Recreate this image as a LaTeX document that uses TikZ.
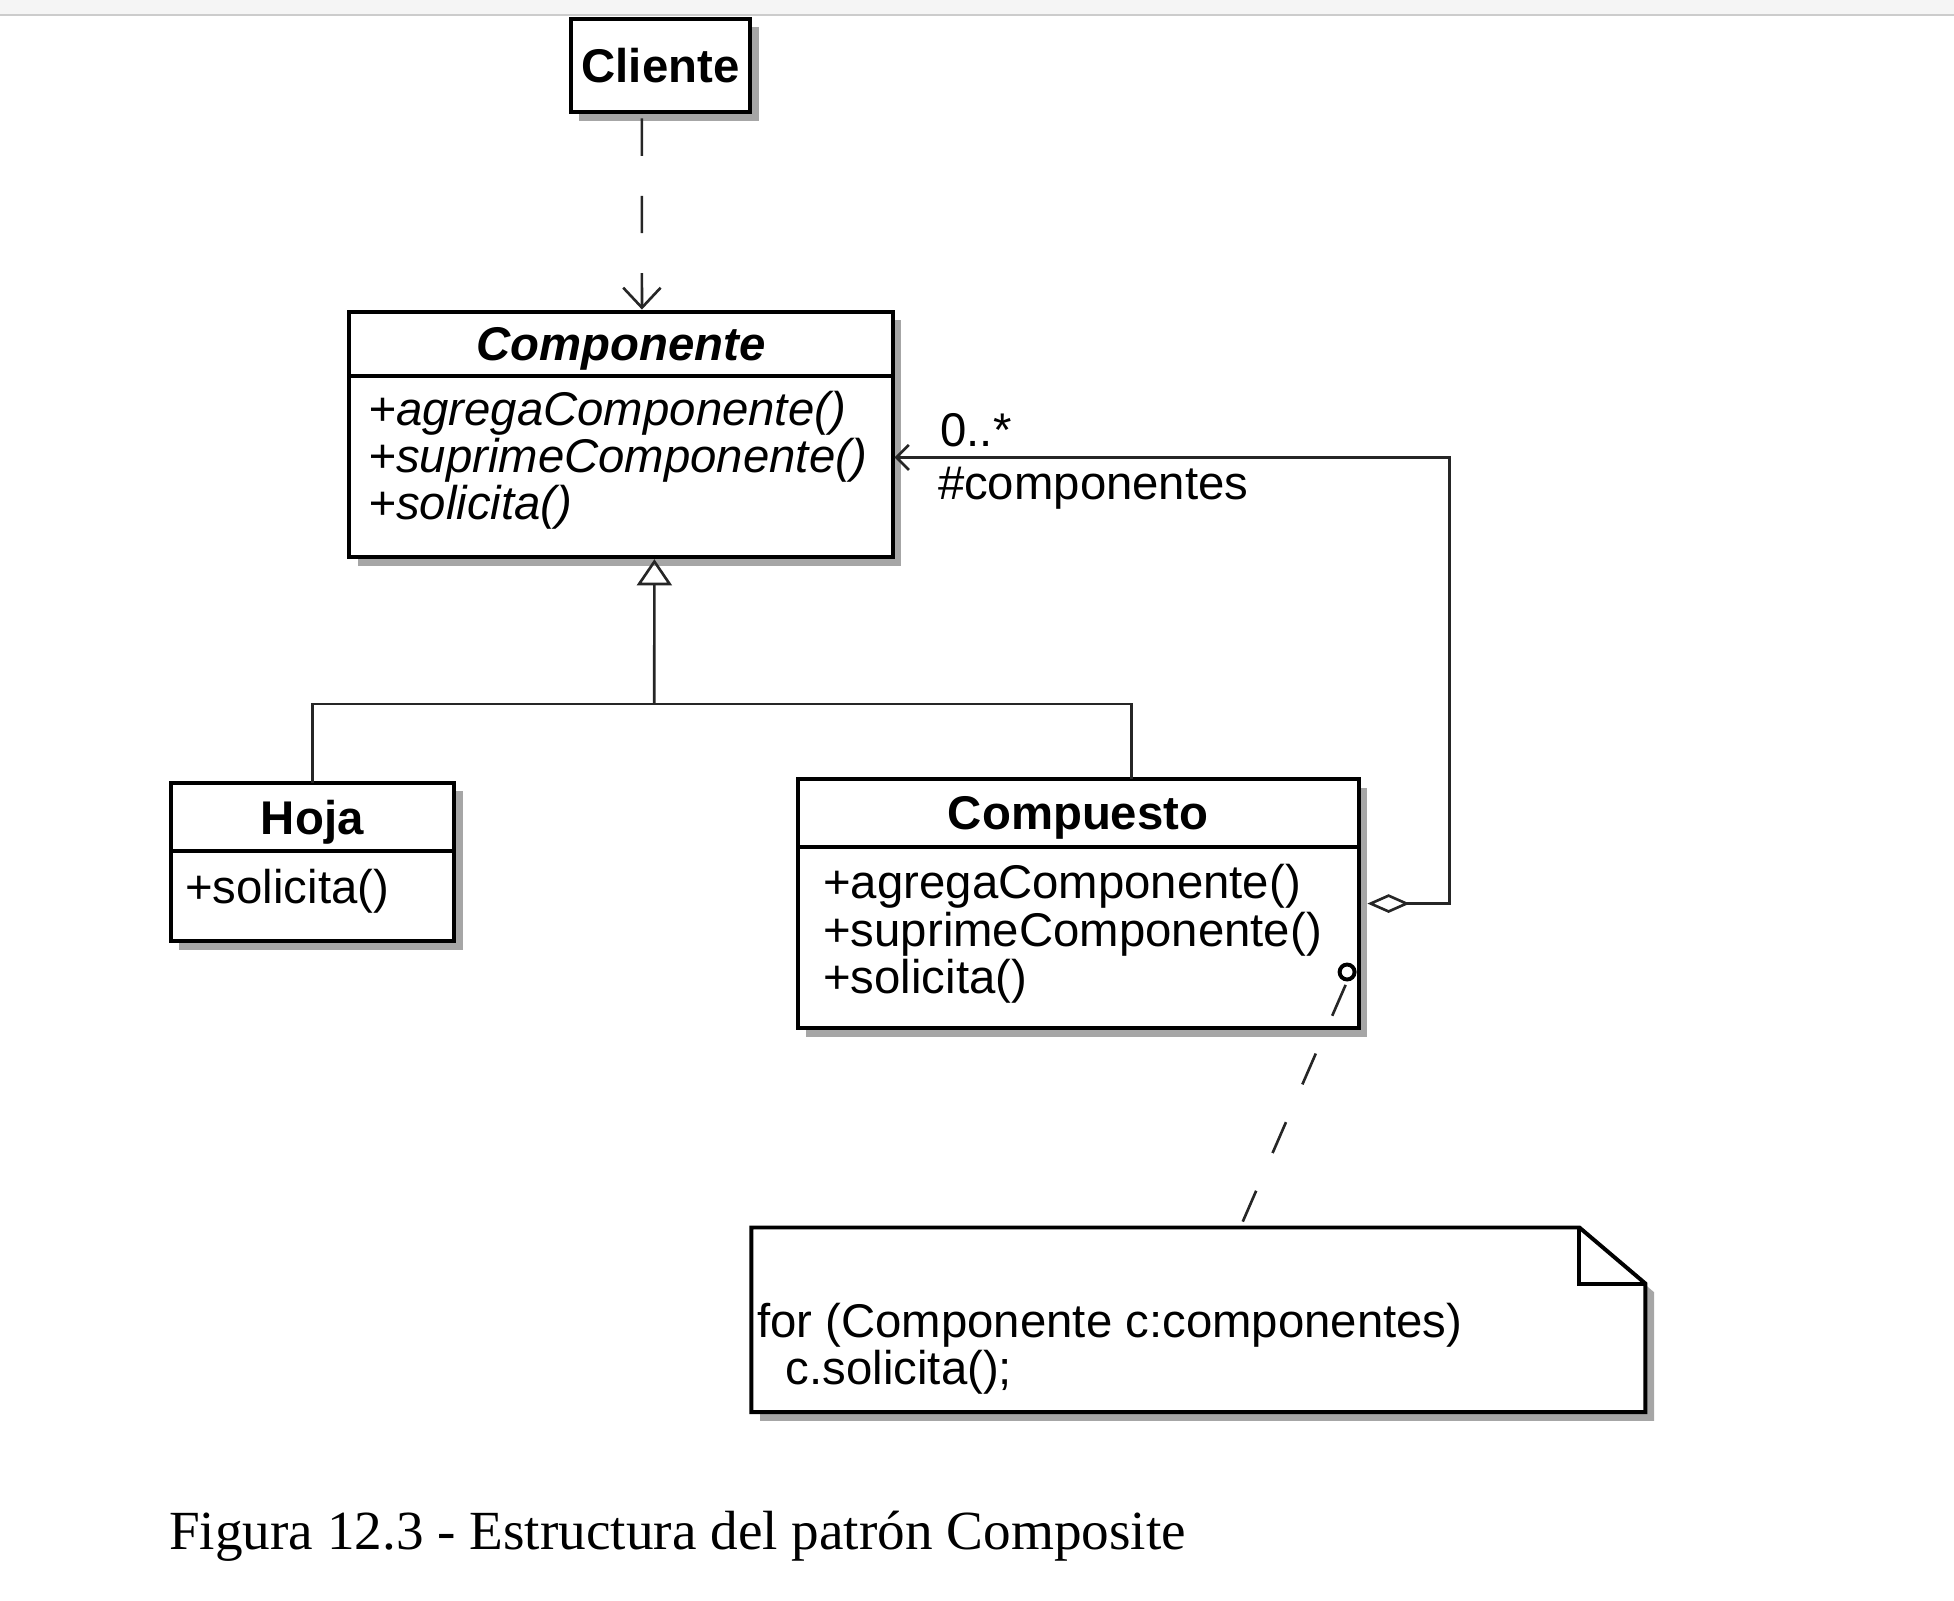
\documentclass[tikz,border=0pt]{standalone}
\usepackage{fontspec}
\setmainfont{Liberation Serif}
\newfontfamily\umlfont{Liberation Sans}
\newcommand{\umltam}{\fontsize{10.8}{10.8}\selectfont}
\usetikzlibrary{positioning, arrows.meta, shadows}
\tikzset{texto/.style={font=\umlfont\umltam,inner sep=0pt}}

\begin{document}
\begin{tikzpicture}[x=0.01cm,y=-0.01cm,
                sombra/.style={drop shadow={shadow xshift=0.07cm,shadow yshift=-0.07cm,fill=black!35,opacity=1}},
                clase/.style={draw=black,line width=0.9pt,fill=white,sombra,inner sep=0pt,outer sep=0pt},
                titulo/.style={clase,anchor=north west,text depth=0pt,font=\umlfont\bfseries\umltam},
                metodos/.style={texto,anchor=north west,align=left},
                conector/.style={draw=black!85,line width=0.6pt},
                dep/.style={conector,dash pattern=on 0.3cm off 0.32cm,-{Straight Barb[length=0.16cm,width=0.3cm]}},
                gen/.style={conector,-{Triangle[open,length=0.21cm,width=0.28cm]}},
                agr/.style={conector,{Diamond[open,length=0.34cm,width=0.15cm]}-{Straight Barb[length=0.1cm,width=0.2cm]}}]
                \useasboundingbox (0,0) rectangle (1568,1284);
                \fill[black!4] (0,0) rectangle (1568,12);
                \draw[black!20] (0,12) -- (1568,12);

                \node[titulo,minimum width=1.44cm,minimum height=0.75cm] (cliente) at (458,15) {Cliente};

                \node[titulo,minimum width=4.36cm,minimum height=0.52cm,font=\umlfont\bfseries\itshape\umltam] (compT) at (280,250) {Componente};
                \node[clase,below=0pt of compT,minimum width=4.36cm,minimum height=1.45cm] (compB) {};
                \node[metodos,font=\umlfont\itshape\umltam] (compM) at (295,313) {+agregaComponente()\\+suprimeComponente()\\+solicita()};

                \node[titulo,minimum width=2.27cm,minimum height=0.55cm] (hojaT) at (137,628) {Hoja};
                \node[clase,below=0pt of hojaT,minimum width=2.27cm,minimum height=0.72cm] (hojaB) {};
                \node[metodos] (hojaM) at (148,697) {+solicita()};

                \node[titulo,minimum width=4.50cm,minimum height=0.55cm] (compuT) at (640,625) {Compuesto};
                \node[clase,below=0pt of compuT,minimum width=4.50cm,minimum height=1.45cm] (compuB) {};
                \node[metodos] (compuM) at (660,693) {+agregaComponente()\\+suprimeComponente()\\+solicita()};

                \node[minimum width=7.17cm,minimum height=1.48cm,anchor=north west,inner sep=0pt,outer sep=0pt] (nota) at (603,985) {};
                \draw[clase] (nota.north west) -- ([xshift=-0.53cm]nota.north east) -- ([yshift=-0.45cm]nota.north east)
                -- (nota.south east) -- (nota.south west) -- cycle;
                \draw[line width=0.9pt] ([xshift=-0.53cm]nota.north east) |- ([yshift=-0.45cm]nota.north east);
                \node[metodos] (notaM) at (607,1045) {for (Componente c:componentes)\\\hspace*{0.23cm}c.solicita();};

                \draw[dep] ([xshift=-0.15cm,yshift=-0.05cm]cliente.south) -- ([xshift=0.17cm,yshift=0.45pt]compT.north);

                \coordinate (union) at (525,565);
                \draw[conector] (hojaT.north) |- (union);
                \draw[conector] ([xshift=0.43cm]compuT.north) |- (union);
                \draw[gen] (union) -- ([xshift=0.27cm,yshift=-0.45pt]compB.south);

                \draw[agr] ([xshift=0.07cm,yshift=0.275cm]compuB.east) -- ++(66,0) |- ([xshift=0.45pt,yshift=0.075cm]compB.east);
                \node[texto,anchor=base west] (mult) at (754,358) {0..*};
                \node[texto,anchor=base west] (rol) at (752,401) {\#componentes};

                \node[circle,draw,line width=0.9pt,fill=white,minimum size=0.12cm,inner sep=0pt] (ancla) at (1081,780) {};
                \draw[conector,dash pattern=on 0.27cm off 0.33cm,dash phase=0.57cm] (ancla.south) -- ([xshift=3.92cm]nota.north west);

                \node[anchor=base west,inner sep=0pt,font=\fontsize{12.6}{15}\selectfont] (pie) at (135,1243) {Figura 12.3 - Estructura del patrón Composite};
            \end{tikzpicture}
\end{document}
